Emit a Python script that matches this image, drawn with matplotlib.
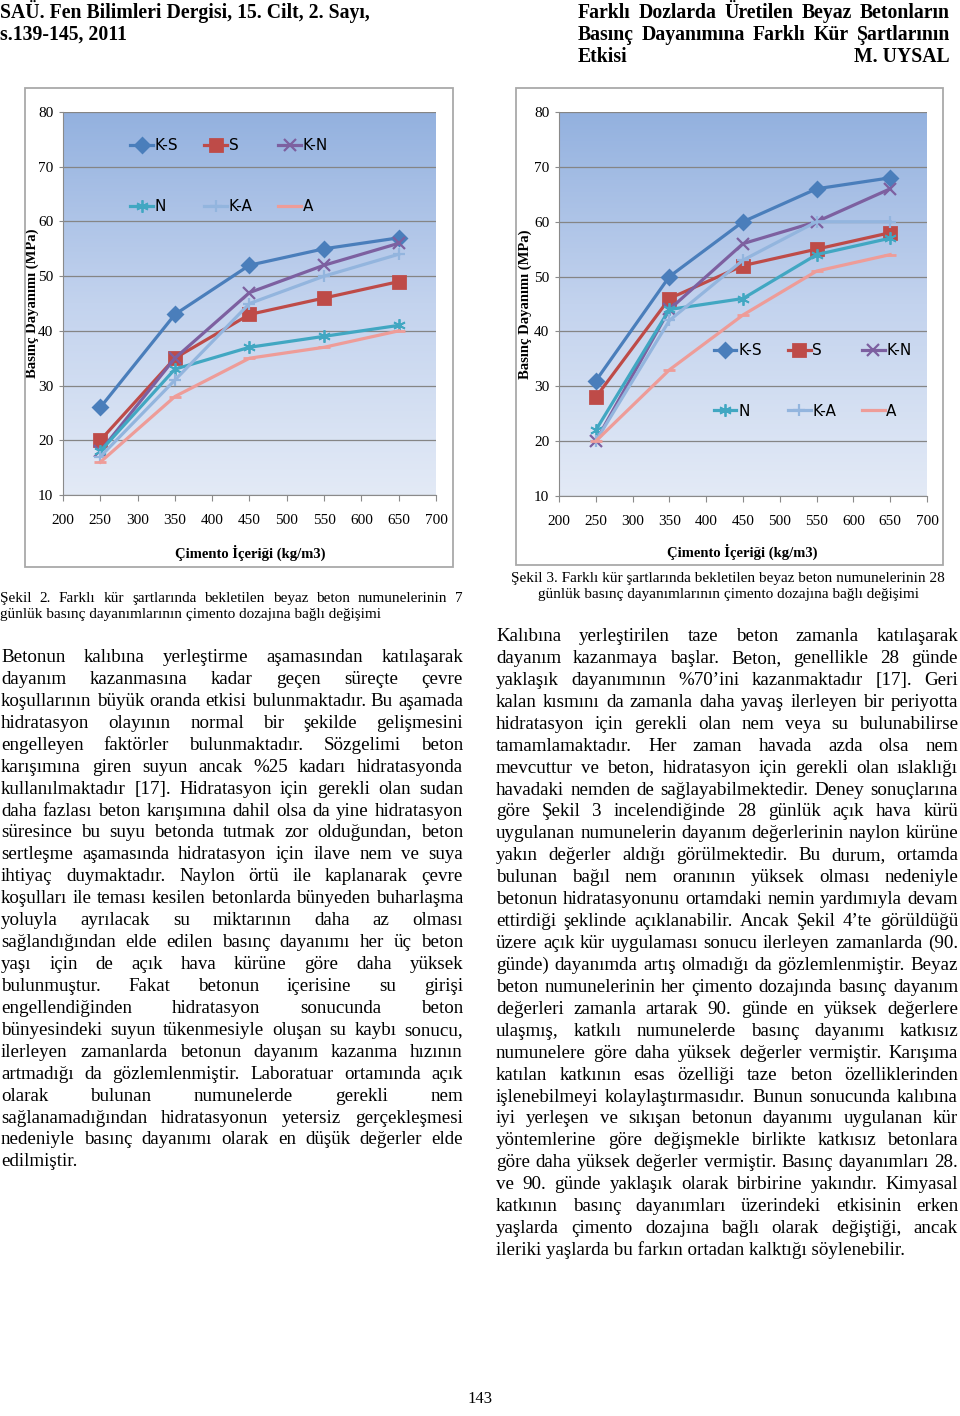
import numpy as np
import matplotlib
matplotlib.use('Agg')
import matplotlib.pyplot as plt
from matplotlib.colors import LinearSegmentedColormap
from matplotlib.patches import Rectangle
from matplotlib.transforms import IdentityTransform

## Data START ##
cement = [250, 350, 450, 550, 650]
series = ['K-S', 'S', 'K-N', 'N', 'K-A', 'A']

# 7 days (Sekil 2)
ks_7 = [26, 43, 52, 55, 57]
s_7 = [20, 35, 43, 46, 49]
kn_7 = [18, 35, 47, 52, 56]
n_7 = [18, 33, 37, 39, 41]
ka_7 = [17, 31, 45, 50, 54]
a_7 = [16, 28, 35, 37, 40]

# 28 days (Sekil 3)
ks_28 = [31, 50, 60, 66, 68]
s_28 = [28, 46, 52, 55, 58]
kn_28 = [20, 44, 56, 60, 66]
n_28 = [22, 44, 46, 54, 57]
ka_28 = [20, 42, 53, 60, 60]
a_28 = [20, 33, 43, 51, 54]

x_ticks = list(range(200, 701, 50))
y_ticks = list(range(10, 81, 10))

header_left = ['SAÜ. Fen Bilimleri Dergisi, 15. Cilt, 2. Sayı,', 's.139-145, 2011']
header_right = ['Farklı Dozlarda Üretilen Beyaz Betonların',
                'Basınç Dayanımına Farklı Kür Şartlarının']
header_last = ('Etkisi', 'M. UYSAL')

caption_2 = ['Şekil 2. Farklı kür şartlarında bekletilen beyaz beton numunelerinin 7',
             'günlük basınç dayanımlarının çimento dozajına bağlı değişimi']
caption_3 = ['Şekil 3. Farklı kür şartlarında bekletilen beyaz beton numunelerinin 28',
             'günlük basınç dayanımlarının çimento dozajına bağlı değişimi']

left_col = [
    'Betonun kalıbına yerleştirme aşamasından katılaşarak',
    'dayanım kazanmasına kadar geçen süreçte çevre',
    'koşullarının büyük oranda etkisi bulunmaktadır. Bu aşamada',
    'hidratasyon olayının normal bir şekilde gelişmesini',
    'engelleyen faktörler bulunmaktadır. Sözgelimi beton',
    'karışımına giren suyun ancak %25 kadarı hidratasyonda',
    'kullanılmaktadır [17]. Hidratasyon için gerekli olan sudan',
    'daha fazlası beton karışımına dahil olsa da yine hidratasyon',
    'süresince bu suyu betonda tutmak zor olduğundan, beton',
    'sertleşme aşamasında hidratasyon için ilave nem ve suya',
    'ihtiyaç duymaktadır. Naylon örtü ile kaplanarak çevre',
    'koşulları ile teması kesilen betonlarda bünyeden buharlaşma',
    'yoluyla ayrılacak su miktarının daha az olması',
    'sağlandığından elde edilen basınç dayanımı her üç beton',
    'yaşı için de açık hava kürüne göre daha yüksek',
    'bulunmuştur. Fakat betonun içerisine su girişi',
    'engellendiğinden hidratasyon sonucunda beton',
    'bünyesindeki suyun tükenmesiyle oluşan su kaybı sonucu,',
    'ilerleyen zamanlarda betonun dayanım kazanma hızının',
    'artmadığı da gözlemlenmiştir. Laboratuar ortamında açık',
    'olarak bulunan numunelerde gerekli nem',
    'sağlanamadığından hidratasyonun yetersiz gerçekleşmesi',
    'nedeniyle basınç dayanımı olarak en düşük değerler elde',
    'edilmiştir.',
]

right_col = [
    'Kalıbına yerleştirilen taze beton zamanla katılaşarak',
    'dayanım kazanmaya başlar. Beton, genellikle 28 günde',
    'yaklaşık dayanımının %70’ini kazanmaktadır [17]. Geri',
    'kalan kısmını da zamanla daha yavaş ilerleyen bir periyotta',
    'hidratasyon için gerekli olan nem veya su bulunabilirse',
    'tamamlamaktadır. Her zaman havada azda olsa nem',
    'mevcuttur ve beton, hidratasyon için gerekli olan ıslaklığı',
    'havadaki nemden de sağlayabilmektedir. Deney sonuçlarına',
    'göre Şekil 3 incelendiğinde 28 günlük açık hava kürü',
    'uygulanan numunelerin dayanım değerlerinin naylon kürüne',
    'yakın değerler aldığı görülmektedir. Bu durum, ortamda',
    'bulunan bağıl nem oranının yüksek olması nedeniyle',
    'betonun hidratasyonunu ortamdaki nemin yardımıyla devam',
    'ettirdiği şeklinde açıklanabilir. Ancak Şekil 4’te görüldüğü',
    'üzere açık kür uygulaması sonucu ilerleyen zamanlarda (90.',
    'günde) dayanımda artış olmadığı da gözlemlenmiştir. Beyaz',
    'beton numunelerinin her çimento dozajında basınç dayanım',
    'değerleri zamanla artarak 90. günde en yüksek değerlere',
    'ulaşmış, katkılı numunelerde basınç dayanımı katkısız',
    'numunelere göre daha yüksek değerler vermiştir. Karışıma',
    'katılan katkının esas özelliği taze beton özelliklerinden',
    'işlenebilmeyi kolaylaştırmasıdır. Bunun sonucunda kalıbına',
    'iyi yerleşen ve sıkışan betonun dayanımı uygulanan kür',
    'yöntemlerine göre değişmekle birlikte katkısız betonlara',
    'göre daha yüksek değerler vermiştir. Basınç dayanımları 28.',
    've 90. günde yaklaşık olarak birbirine yakındır. Kimyasal',
    'katkının basınç dayanımları üzerindeki etkisinin erken',
    'yaşlarda çimento dozajına bağlı olarak değiştiği, ancak',
    'ileriki yaşlarda bu farkın ortadan kalktığı söylenebilir.',
]
page_no = '143'
## Data END ##

colors = ['#4a7ebb', '#be4b48', '#7d60a0', '#41a7c2', '#93b5de', '#ee9c98']
markers = ['D', 's', 'x', (6, 2, 0), '+', '_']
msizes = [7, 8.5, 8, 9, 9, 8]
legend_order = [0, 3, 1, 4, 2, 5]   # row-wise fill: K-S S K-N / N K-A A

plt.rcParams['font.family'] = ['Liberation Serif', 'DejaVu Serif']

W, H = 960, 1416
fig = plt.figure(figsize=(9.6, 14.16), dpi=100)
fig.patch.set_facecolor('white')
renderer = fig.canvas.get_renderer()
PX = IdentityTransform()


def text_width(s, size, weight='normal'):
    t = fig.text(0, 0, s, fontsize=size, weight=weight, transform=PX)
    w = t.get_window_extent(renderer).width
    t.remove()
    return w


def fit_size(s, width, weight='normal', base=12.0):
    return base * width / text_width(s, base, weight)


def put_line(s, x0, x1, yb, size, weight='normal', justify=True):
    words = s.split()
    if not justify or len(words) == 1:
        fig.text(x0, H - yb, s, fontsize=size, weight=weight, transform=PX,
                 ha='left', va='baseline')
        return
    ws = [text_width(w, size, weight) for w in words]
    gap = (x1 - x0 - sum(ws)) / (len(words) - 1)
    x = x0
    for w, wd in zip(words, ws):
        fig.text(x, H - yb, w, fontsize=size, weight=weight, transform=PX,
                 ha='left', va='baseline')
        x += wd + gap


# header
hsize = fit_size(header_left[0], 367, 'bold')
put_line(header_left[0], 0, 367, 18, hsize, 'bold', justify=False)
put_line(header_left[1], 0, 367, 40, hsize, 'bold', justify=False)
put_line(header_right[0], 578, 950, 18, hsize, 'bold')
put_line(header_right[1], 578, 950, 40, hsize, 'bold')
fig.text(578, H - 62, header_last[0], fontsize=hsize, weight='bold', transform=PX, va='baseline')
fig.text(950, H - 62, header_last[1], fontsize=hsize, weight='bold', transform=PX, va='baseline',
         ha='right')

# gradient for plot area
grad = np.linspace(0, 1, 256).reshape(-1, 1)
cmap = LinearSegmentedColormap.from_list('bg', ['#e3eaf6', '#c3d3ee', '#93b1df'])


def draw_chart(plot_px, frame_px, data, leg_anchor, ylab_x, xlab_xy):
    l, t, r, b = plot_px
    ax = fig.add_axes([l / W, 1 - b / H, (r - l) / W, (b - t) / H])
    ax.imshow(grad, extent=[0, 1, 0, 1], transform=ax.transAxes, aspect='auto',
              cmap=cmap, origin='lower', zorder=0, interpolation='bicubic')
    lines = []
    for name, vals, c, m, ms in zip(series, data, colors, markers, msizes):
        mew = 1.6 if m in ('x', '+') else (1.3 if isinstance(m, tuple) else 2)
        ln, = ax.plot(cement, vals, color=c, lw=2.3, marker=m, ms=ms, mew=mew,
                      mec=c, mfc=c, label=name, zorder=3)
        lines.append(ln)
    ax.set_xlim(200, 700)
    ax.set_ylim(10, 80)
    ax.set_xticks(x_ticks)
    ax.set_yticks(y_ticks)
    ax.set_axisbelow(True)
    ax.grid(axis='y', color='#858585', lw=0.9)
    for sp in ['top', 'right']:
        ax.spines[sp].set_visible(False)
    for sp in ['left', 'bottom']:
        ax.spines[sp].set_color('#8a8a8a')
    ax.tick_params(axis='x', direction='out', length=4, color='#8a8a8a', labelsize=11, pad=10)
    ax.tick_params(axis='y', direction='out', length=3, color='#8a8a8a', labelsize=11, pad=4)
    ax.set_xlabel('Çimento İçeriği (kg/m3)', fontsize=10.5, weight='bold')
    ax.set_ylabel('Basınç Dayanımı (MPa)', fontsize=10.5, weight='bold')
    ax.xaxis.set_label_coords(*xlab_xy)
    ax.xaxis.label.set_va('center')
    ax.yaxis.set_label_coords(ylab_x, 0.5)
    ax.yaxis.label.set_va('center')
    hs = [lines[i] for i in legend_order]
    ax.legend(hs, [series[i] for i in legend_order], loc='center left',
              bbox_to_anchor=leg_anchor, ncol=3, frameon=False,
              prop={'family': ['Liberation Sans Narrow', 'DejaVu Sans'], 'size': 11},
              handlelength=1.5, handletextpad=0.1, columnspacing=1.7, labelspacing=3.0,
              borderpad=0, borderaxespad=0, numpoints=1)
    fl, ft, fr, fb = frame_px
    fig.add_artist(Rectangle((fl / W, 1 - fb / H), (fr - fl) / W, (fb - ft) / H,
                             transform=fig.transFigure, fill=False, ec='#a9a9a9', lw=1.3))
    return ax


draw_chart((63, 112, 436, 495), (25, 88, 453, 567),
           [ks_7, s_7, kn_7, n_7, ka_7, a_7], (0.18, 0.832), -0.083, (0.501, -0.151))
draw_chart((559, 112, 927, 496), (516, 88, 943, 565),
           [ks_28, s_28, kn_28, n_28, ka_28, a_28], (0.42, 0.30), -0.092, (0.497, -0.146))

# captions
csize = fit_size(caption_3[0], 430)
put_line(caption_2[0], 0, 463, 602, csize)
put_line(caption_2[1], 0, 463, 618, csize, justify=False)
for i, s in enumerate(caption_3):
    fig.text(728, H - (582 + 16 * i), s, fontsize=csize, transform=PX, ha='center', va='baseline')

# body text
bsize = fit_size(left_col[2], 462)
step = 21.93
for i, s in enumerate(left_col):
    put_line(s, 1, 463, 662 + i * step, bsize, justify=(i != len(left_col) - 1))
for i, s in enumerate(right_col):
    put_line(s, 496, 958, 641 + i * step, bsize, justify=(i != len(right_col) - 1))

fig.text(480, H - 1403, page_no, fontsize=12, transform=PX, ha='center', va='baseline')

fig.savefig('out.png', dpi=100)
